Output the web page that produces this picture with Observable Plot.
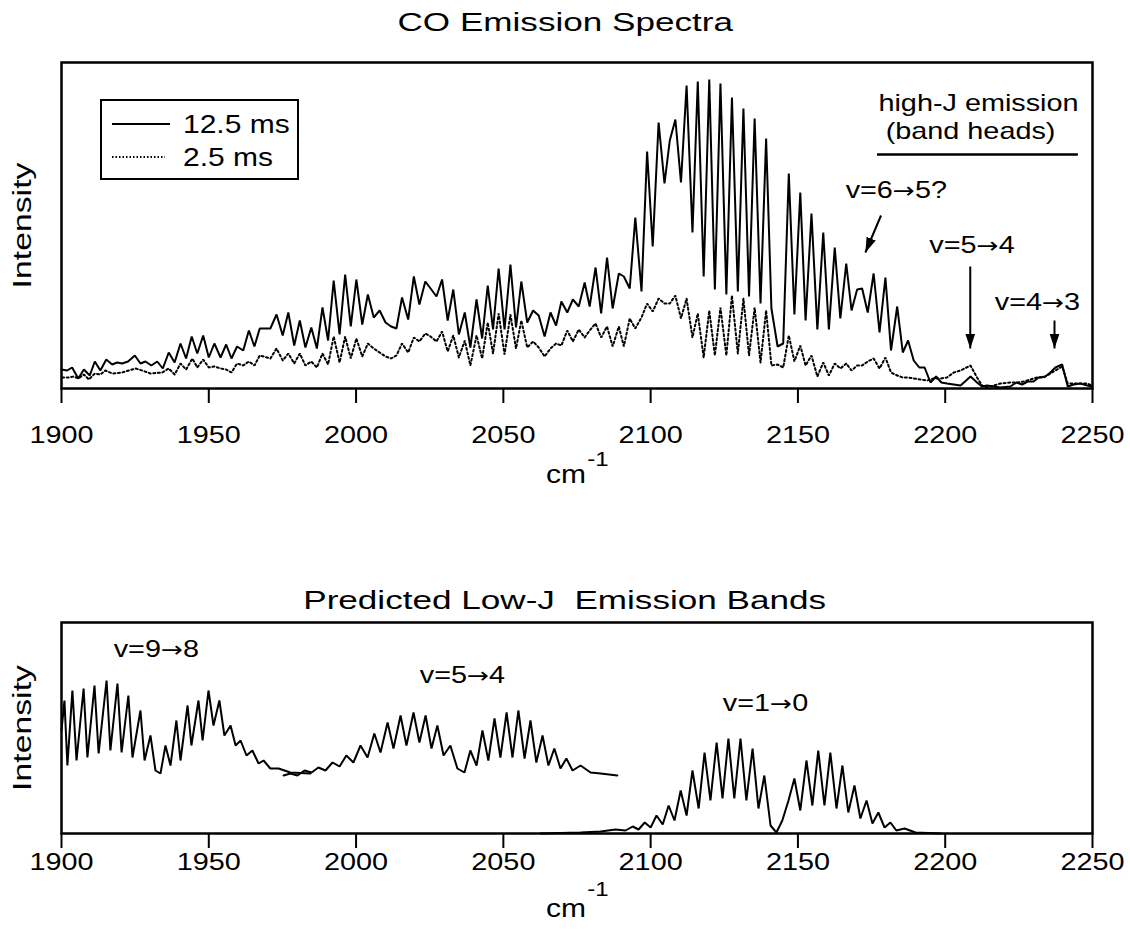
<!DOCTYPE html>
<html><head><meta charset="utf-8">
<script src="https://cdn.jsdelivr.net/npm/d3@7"></script>
<script src="https://cdn.jsdelivr.net/npm/@observablehq/plot@0.6"></script>
<style>
html,body{margin:0;padding:0;background:#fff;}
body{width:1130px;height:944px;position:relative;overflow:hidden;font-family:"Liberation Sans",Arial,Helvetica,sans-serif;color:#000;}
.abs{position:absolute;}
.title{position:absolute;left:0;width:1130px;text-align:center;font-size:26px;line-height:30px;}
.title span{display:inline-block;transform:scaleX(1.35);white-space:pre;}
</style></head><body>
<div id="p1" class="abs" style="left:0;top:44px"></div>
<div id="p2" class="abs" style="left:0;top:600px"></div>
<div class="title" style="top:7px"><span>CO Emission Spectra</span></div>
<div class="title" style="top:585px"><span>Predicted Low-J  Emission Bands</span></div>
<svg id="legend" class="abs" style="left:100px;top:99px" width="200" height="82"></svg>
<script>
// ---------- data (wavenumber in cm-1, intensity in arbitrary units) ----------
const xTicks = [1900, 1950, 2000, 2050, 2100, 2150, 2200, 2250];

// 12.5 ms emission spectrum (solid)
const solidX = [
 1900,1901.9,1903.6,1905.7,1907.6,1909.6,1911.3,1913.2,1915.2,1917.2,
 1918.9,1920.6,1922.6,1924.9,1926.8,1928.5,1930.5,1932.5,1934.4,1936.4,
 1938.4,1940.4,1942.3,1944.2,1946.1,1948.1,1950.0,1951.9,1954.0,1955.9,
 1957.7,1959.6,1961.7,1963.6,1965.5,1967.3,1970.9,1973.0,1975.1,1977.0,
 1979.0,1980.9,1982.8,1984.8,1986.7,1988.6,1990.5,1992.4,1994.4,1996.3,
 1998.2,2000.1,2002.1,2004.0,2006.0,2008.0,2010.0,2011.9,2013.7,2015.6,
 2017.7,2019.6,2021.5,2023.5,2025.3,2027.3,2029.2,2031.1,2033.0,2034.9,
 2036.9,2038.8,2040.9,2042.8,2044.7,2046.5,2048.4,2050.4,2052.4,2054.3,
 2056.1,2058.1,2060.1,2062.0,2064.0,2066.0,2067.9,2069.7,2071.7,2073.6,
 2075.6,2077.6,2079.3,2081.3,2083.2,2085.2,2087.1,2089.2,2090.9,2092.9,
 2094.8,2096.9,2098.8,2100.7,2102.7,2104.7,2106.5,2108.4,2110.3,2112.2,
 2114.2,2116.0,2118.0,2119.9,2121.8,2123.7,2125.7,2127.6,2129.6,2131.5,
 2133.4,2135.3,2137.3,2139.2,2141.0,2143.1,2145.0,2146.9,2148.8,2150.8,
 2152.6,2154.6,2156.6,2158.6,2160.5,2162.5,2164.4,2166.4,2168.2,2170.1,
 2171.8,2173.7,2175.7,2177.7,2179.7,2181.6,2183.7,2185.6,2187.4,2189.3,
 2191.2,2193.0,2195.0,2196.9,2198.7,2200.6,2202.9,2205.2,2208.6,2210.8,
 2212.5,2214.2,2216.5,2218.7,2222.1,2224.2,2226.1,2228.0,2230.0,2231.7,
 2234.0,2235.7,2237.4,2239.7,2241.6,2243.6,2245.9,2248.2,2249.9];
const solidY = [
 19,18,21,10,19,13,27,18,29,24,
 26,25,27,33,25,27,23,27,20,36,
 26,45,30,52,35,53,31,45,31,44,
 30,42,38,58,42,60,60,74,53,76,
 43,68,41,61,40,81,48,108,54,114,
 62,109,64,94,71,78,66,62,60,91,
 69,112,84,107,100,92,109,68,99,54,
 76,41,89,50,103,59,120,59,124,61,
 107,66,78,73,52,76,63,87,76,89,
 82,106,82,121,75,131,80,115,112,100,
 171,97,237,142,266,205,248,269,206,303,
 156,307,112,309,99,305,94,291,97,280,
 92,270,85,250,80,42,45,215,74,196,
 68,175,59,156,59,141,70,125,78,99,
 100,76,115,56,111,38,82,36,48,28,
 21,21,6,12,6,5,4,3,12,6,
 2,3,2,1,2,6,4,7,7,11,
 12,16,21,24,2,4,5,3,2];

// 2.5 ms emission spectrum (dotted)
const dottedX = [
 1900.2,1902.5,1904.2,1905.7,1907.6,1909.3,1911.3,1913.2,1914.9,1917.2,
 1920.6,1925.1,1927.4,1930.2,1934.2,1936.4,1938.4,1940.4,1942.3,1944.4,
 1946.1,1948.1,1950.0,1951.9,1954.0,1955.9,1957.7,1959.6,1961.7,1963.6,
 1965.5,1967.3,1970.9,1973.0,1975.1,1977.0,1979.0,1980.9,1982.8,1984.8,
 1986.7,1988.6,1990.5,1992.4,1994.4,1996.3,1998.2,2000.1,2002.1,2004.0,
 2006.0,2008.0,2010.0,2011.9,2013.7,2015.6,2017.7,2019.6,2021.5,2023.5,
 2025.3,2027.3,2029.2,2031.1,2033.0,2034.9,2036.9,2038.8,2040.9,2042.8,
 2044.7,2046.5,2048.4,2050.4,2052.4,2054.3,2056.1,2058.1,2060.1,2062.0,
 2064.0,2066.0,2067.9,2069.7,2071.7,2073.6,2075.6,2077.6,2079.3,2081.3,
 2083.2,2085.2,2087.1,2089.2,2090.9,2092.9,2094.8,2096.9,2098.8,2100.7,
 2102.7,2104.7,2106.5,2108.4,2110.3,2112.2,2114.2,2116.0,2118.0,2119.9,
 2121.8,2123.7,2125.7,2127.6,2129.6,2131.5,2133.4,2135.3,2137.3,2139.2,
 2141.0,2143.1,2145.0,2146.9,2148.8,2150.8,2152.6,2154.6,2156.6,2158.6,
 2160.5,2162.5,2164.4,2166.4,2168.2,2170.1,2171.8,2173.7,2175.7,2177.7,
 2179.7,2181.6,2183.7,2185.6,2187.4,2189.3,2191.6,2193.9,2196.1,2198.4,
 2200.6,2202.9,2205.2,2208.6,2210.8,2212.5,2214.2,2216.5,2218.7,2222.1,
 2224.4,2226.6,2228.9,2231.2,2233.4,2235.7,2237.4,2239.7,2241.6,2243.6,
 2245.9,2248.2,2249.9];
const dottedY = [
 11,11,12,10,14,9,15,14,18,15,
 16,20,18,15,16,20,14,25,19,30,
 21,29,21,22,20,19,16,25,23,27,
 23,33,30,40,28,35,25,35,23,27,
 21,35,24,52,26,52,30,50,32,45,
 40,36,32,30,33,45,36,51,47,55,
 52,47,57,37,53,31,48,23,53,30,
 66,35,75,34,74,40,68,41,47,41,
 32,40,45,43,58,47,59,51,58,65,
 51,62,42,62,42,70,60,71,85,77,
 90,85,85,93,70,90,51,75,31,78,
 33,81,33,93,35,90,33,81,26,78,
 23,24,21,53,27,43,23,33,12,26,
 13,25,20,25,18,23,23,27,30,20,
 31,16,13,11,11,10,9,8,10,10,
 11,16,18,23,11,3,1,3,5,6,
 6,7,9,11,11,15,18,22,5,5,
 5,5,3];

// predicted low-J bands (bottom panel)
const band98X = [1900,1901.0,1902.0,1903.7,1905.1,1907.5,1908.8,1911.2,1912.6,1915.3,
 1916.6,1919.0,1920.4,1922.7,1924.1,1926.8,1928.2,1930.2,1931.9,1933.6,
 1935.3,1937.0,1939.0,1940.4,1942.8,1944.1,1946.5,1947.9,1949.9,1951.6,
 1953.6,1955.3,1957.4,1959.1,1960.8,1962.8,1964.8,1966.9,1968.6,1970.9,
 1973.7,1977.7,1984.5];
const band98Y = [103,133,68,143,73,145,76,148,80,153,
 83,150,81,138,76,123,73,98,63,60,
 88,68,113,73,128,88,133,93,143,108,
 133,98,108,88,93,78,83,70,73,65,
 65,61,60];

const band54X = [1975.4,1977.7,1980.1,1982.5,1984.9,1987.2,1989.6,1992.0,1994.4,1996.7,
 1999.1,2001.5,2003.9,2006.2,2008.3,2010.7,2012.7,2015.1,2017.1,2019.5,
 2021.5,2023.6,2025.6,2027.6,2029.7,2032.0,2034.4,2036.8,2038.8,2040.9,
 2042.9,2044.9,2047.0,2049.0,2051.1,2053.1,2055.1,2057.2,2059.2,2061.2,
 2063.3,2065.3,2067.3,2069.4,2071.4,2073.5,2076.2,2079.6,2083.0,2088.7];
const band54Y = [58,60,58,63,61,66,63,71,67,78,
 71,88,76,100,81,111,85,118,88,121,
 91,118,85,108,78,88,65,61,83,68,
 103,73,115,76,121,76,123,75,113,71,
 98,68,85,65,75,63,68,61,60,58];

const band10X = [2062.6,2076.2,2083.0,2088.1,2091.5,2093.9,2095.9,2098.0,2100.0,2102.0,
 2104.1,2106.1,2108.1,2110.2,2112.2,2114.2,2116.3,2118.3,2120.3,2122.4,
 2124.4,2126.4,2128.4,2130.5,2132.5,2134.6,2136.6,2138.6,2140.7,2142.7,
 2144.7,2146.8,2148.8,2150.8,2152.9,2154.9,2156.9,2159.0,2161.0,2163.1,
 2165.1,2167.1,2169.2,2171.2,2173.3,2175.3,2177.3,2179.4,2181.4,2183.4,
 2186.2,2189.9,2198.4];
const band10Y = [0,1,2,4,3,7,4,11,6,18,
 9,28,13,43,18,63,25,81,33,91,
 35,95,35,95,33,85,25,58,8,1,
 13,33,55,23,73,28,83,28,81,25,
 68,21,48,15,33,10,21,6,11,3,
 5,1,0];

// annotations
const topLabelText = ["high-J emission", "(band heads)", "v=6\u21925?", "v=5\u21924", "v=4\u21923"];
const topLabelX = [2211.3, 2208.6, 2183.4, 2209.1, 2231.3];
const topLabelY = [285, 257, 198, 143, 86];
const arrowX1 = [2178.2, 2208.5, 2237.1];
const arrowY1 = [173, 122, 68];
const arrowX2 = [2172.9, 2208.5, 2237.1];
const arrowY2 = [136, 40, 40];
const bandHeadRule = {y: 234, x1: 2177.0, x2: 2245.2};

const bottomLabelText = ["v=9\u21928", "v=5\u21924", "v=1\u21920"];
const bottomLabelX = [1932.2, 2036.1, 2139.0];
const bottomLabelY = [184, 158, 130];

const legendLabels = ["12.5 ms", "2.5 ms"];

// ---------- build ----------
const FONT = '"Liberation Sans", Arial, Helvetica, sans-serif';
const K = 1.2; // horizontal text stretch of the original
const zip = (xs, ys) => xs.map((x, i) => ({x, y: ys[i]}));
const solid = zip(solidX, solidY);
const dotted = zip(dottedX, dottedY);
const topLabels = topLabelText.map((t, i) => ({text: t, x: topLabelX[i], y: topLabelY[i]}));
const arrows = arrowX1.map((x, i) => ({x1: x, y1: arrowY1[i], x2: arrowX2[i], y2: arrowY2[i]}));
const bottomLabels = bottomLabelText.map((t, i) => ({text: t, x: bottomLabelX[i], y: bottomLabelY[i]}));

const common = {
  width: 1130, marginLeft: 61, marginRight: 38,
  style: {fontFamily: FONT, fontSize: "24px", color: "#000", background: "transparent", overflow: "visible"}
};

const plot1 = Plot.plot({
  ...common,
  height: 480, marginTop: 18, marginBottom: 136,
  x: {domain: [1900, 2250], label: null},
  y: {domain: [0, 326], axis: null, label: null},
  marks: [
    Plot.line(dotted, {x: "x", y: "y", stroke: "#000", strokeWidth: 2, strokeDasharray: "2,2.6", strokeLinejoin: "miter"}),
    Plot.line(solid, {x: "x", y: "y", stroke: "#000", strokeWidth: 2, strokeLinejoin: "miter"}),
    Plot.frame({stroke: "#000", strokeWidth: 2.5}),
    Plot.axisX(xTicks, {tickSize: 15, tickPadding: 22, strokeWidth: 2, tickFormat: d3.format("d"), fontSize: 24, label: null}),
    Plot.text(["cm"], {text: d => d, frameAnchor: "bottom", dy: 94, dx: -11, fontSize: 25}),
    Plot.text(["-1"], {text: d => d, frameAnchor: "bottom", dy: 77, dx: 21, fontSize: 20}),
    Plot.text(["Intensity"], {text: d => d, frameAnchor: "left", textAnchor: "middle", dx: -39, rotate: -90, fontSize: 26}),
    Plot.text(topLabels, {x: "x", y: "y", text: "text", fontSize: 24}),
    Plot.ruleY([bandHeadRule], {y: "y", x1: "x1", x2: "x2", stroke: "#000", strokeWidth: 2.5}),
    Plot.link(arrows, {x1: "x1", y1: "y1", x2: "x2", y2: "y2", stroke: "#000", strokeWidth: 2})
  ]
});

const plot2 = Plot.plot({
  ...common,
  height: 344, marginTop: 22, marginBottom: 111,
  x: {domain: [1900, 2250], label: null},
  y: {domain: [0, 211], axis: null, label: null},
  marks: [
    Plot.line(zip(band98X, band98Y), {x: "x", y: "y", stroke: "#000", strokeWidth: 2, strokeLinejoin: "miter"}),
    Plot.line(zip(band54X, band54Y), {x: "x", y: "y", stroke: "#000", strokeWidth: 2, strokeLinejoin: "miter"}),
    Plot.line(zip(band10X, band10Y), {x: "x", y: "y", stroke: "#000", strokeWidth: 2, strokeLinejoin: "miter"}),
    Plot.frame({stroke: "#000", strokeWidth: 2.5}),
    Plot.axisX(xTicks, {tickSize: 15, tickPadding: 4, strokeWidth: 2, tickFormat: d3.format("d"), fontSize: 24, label: null}),
    Plot.text(["cm"], {text: d => d, frameAnchor: "bottom", dy: 83, dx: -11, fontSize: 25}),
    Plot.text(["-1"], {text: d => d, frameAnchor: "bottom", dy: 62, dx: 21, fontSize: 20}),
    Plot.text(["Intensity"], {text: d => d, frameAnchor: "left", textAnchor: "middle", dx: -39, rotate: -90, fontSize: 26}),
    Plot.text(bottomLabels, {x: "x", y: "y", text: "text", fontSize: 24})
  ]
});

document.getElementById("p1").appendChild(plot1);
document.getElementById("p2").appendChild(plot2);

// filled arrowheads on annotation links
const NS = "http://www.w3.org/2000/svg";
const defs = document.createElementNS(NS, "defs");
const marker = document.createElementNS(NS, "marker");
marker.setAttribute("id", "ahead");
marker.setAttribute("viewBox", "0 0 15 10");
marker.setAttribute("refX", "15"); marker.setAttribute("refY", "5");
marker.setAttribute("markerWidth", "15"); marker.setAttribute("markerHeight", "10");
marker.setAttribute("markerUnits", "userSpaceOnUse"); marker.setAttribute("orient", "auto");
const mp = document.createElementNS(NS, "path");
mp.setAttribute("d", "M0,0L15,5L0,10Z"); mp.setAttribute("fill", "#000");
marker.appendChild(mp); defs.appendChild(marker);
plot1.insertBefore(defs, plot1.firstChild);
plot1.querySelectorAll('g[aria-label="link"] path').forEach(p => p.setAttribute("marker-end", "url(#ahead)"));

// legend
const lg = d3.select("#legend");
lg.append("rect").attr("x", 1).attr("y", 1).attr("width", 197).attr("height", 79).attr("fill", "#fff").attr("stroke", "#000").attr("stroke-width", 2);
lg.append("line").attr("x1", 12).attr("x2", 70).attr("y1", 25).attr("y2", 25).attr("stroke", "#000").attr("stroke-width", 2);
lg.append("line").attr("x1", 12).attr("x2", 65).attr("y1", 58).attr("y2", 58).attr("stroke", "#000").attr("stroke-width", 2).attr("stroke-dasharray", "1.5,2");
lg.selectAll("text.l").data(legendLabels).join("text").attr("class", "l")
  .attr("x", 83).attr("y", (d, i) => i ? 58 : 25).attr("dy", "0.35em")
  .attr("font-family", FONT).attr("font-size", 25).text(d => d);

// arrows inside the transition labels: use a longer, centred arrow glyph
function fixArrows(root) {
  root.querySelectorAll("text").forEach(t => {
    const s = t.textContent;
    if (!s.includes("\u2192") || t.children.length) return;
    const [a, b] = s.split("\u2192");
    t.textContent = "";
    const t1 = document.createElementNS(NS, "tspan"); t1.textContent = a;
    const t2 = document.createElementNS(NS, "tspan"); t2.textContent = "\u2192";
    t2.setAttribute("font-family", '"DejaVu Sans", sans-serif'); t2.setAttribute("font-size", "22");
    const t3 = document.createElementNS(NS, "tspan"); t3.textContent = b;
    t.append(t1, t2, t3);
  });
}
fixArrows(plot1); fixArrows(plot2);

// horizontal stretch like the original raster
function stretchTexts(root, k) {
  root.querySelectorAll("text").forEach(t => {
    const tr = t.getAttribute("transform") || "";
    if (tr.includes("rotate")) { t.setAttribute("transform", tr + " scale(1.3,1)"); return; }
    const n = t.getComputedTextLength();
    if (n > 0) { t.setAttribute("textLength", (n * k).toFixed(1)); t.setAttribute("lengthAdjust", "spacingAndGlyphs"); }
  });
}
stretchTexts(plot1, K);
stretchTexts(plot2, K);
stretchTexts(document.getElementById("legend"), K);
</script>
</body></html>
